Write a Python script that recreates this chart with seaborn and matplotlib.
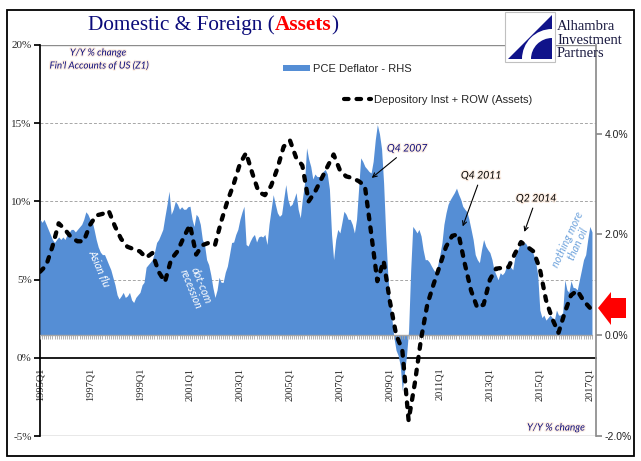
import numpy as np
import pandas as pd
import matplotlib
matplotlib.use("Agg")
import matplotlib.pyplot as plt
import matplotlib.dates as mdates
import matplotlib.patheffects as pe
from matplotlib.patches import Patch, Polygon, Rectangle, Wedge
from matplotlib.lines import Line2D
from matplotlib.transforms import IdentityTransform
import seaborn as sns

# Depository Inst + ROW (Assets), Y/Y % change, quarterly 1995Q1 - 2017Q1 (LHS)
assets_yoy = [
    5.5, 5.9, 7.1, 8.6,      # 1995
    8.2, 7.7, 7.45, 7.45,    # 1996
    8.5, 9.1, 9.2, 9.4,      # 1997
    8.4, 7.6, 7.1, 6.95,     # 1998
    6.8, 6.4, 6.7, 5.5,      # 1999
    4.85, 6.3, 6.8, 7.7,     # 2000
    8.5, 6.6, 7.2, 7.35,     # 2001
    7.2, 8.7, 10.0, 11.1,    # 2002
    12.4, 13.1, 11.8, 10.6,  # 2003
    10.4, 11.0, 12.1, 13.5,  # 2004
    13.9, 12.8, 12.3, 10.0,  # 2005
    10.6, 11.4, 12.2, 13.0,  # 2006
    12.0, 11.6, 11.5, 11.3,  # 2007
    11.0, 8.0, 4.9, 6.2,     # 2008
    3.6, 1.5, 0.5, -4.0,     # 2009
    -1.6, 1.2, 3.4, 4.7,     # 2010
    5.9, 7.1, 7.8, 7.9,      # 2011
    6.0, 4.3, 3.2, 3.4,      # 2012
    5.0, 5.7, 5.75, 5.8,     # 2013
    6.65, 7.4, 7.1, 6.8,     # 2014
    5.7, 3.7, 2.5, 1.6,      # 2015
    2.9, 4.0, 4.3, 3.65,     # 2016
    3.2,                     # 2017
]

# PCE deflator, Y/Y % change, monthly Jan 1995 - Feb 2017 (RHS)
pce_yoy = [
    2.3, 2.24, 2.3, 2.2, 2.1, 2.0, 1.9, 1.84, 1.9, 1.95, 1.9, 1.95,       # 1995
    1.9, 2.0, 2.04, 2.1, 2.1, 2.05, 2.1, 2.15, 2.2, 2.3, 2.45, 2.4,       # 1996
    2.3, 2.26, 2.1, 1.9, 1.75, 1.65, 1.6, 1.6, 1.5, 1.4, 1.3, 1.15,       # 1997
    1.0, 0.8, 0.72, 0.78, 0.85, 0.75, 0.78, 0.85, 0.7, 0.65, 0.75, 0.8,   # 1998
    0.85, 1.0, 1.05, 1.35, 1.4, 1.45, 1.5, 1.65, 1.84, 1.9, 2.0, 2.1,     # 1999
    2.36, 2.6, 2.86, 2.4, 2.5, 2.66, 2.6, 2.5, 2.55, 2.5, 2.5, 2.55,      # 2000
    2.56, 2.3, 2.16, 2.4, 2.35, 2.2, 1.9, 1.8, 1.5, 1.4, 1.2, 0.95,       # 2001
    0.75, 0.9, 1.15, 1.05, 1.05, 1.25, 1.37, 1.6, 1.84, 1.85, 2.0, 2.1,   # 2002
    2.3, 2.45, 2.56, 1.8, 1.77, 1.87, 1.95, 2.0, 1.85, 1.95, 1.97, 1.95,  # 2003
    2.0, 1.8, 2.2, 2.5, 2.79, 2.6, 2.43, 2.36, 2.4, 2.7, 2.99, 2.7,       # 2004
    2.56, 2.6, 2.7, 2.83, 2.5, 2.33, 2.7, 3.0, 3.72, 3.5, 3.35, 3.1,      # 2005
    3.2, 3.15, 3.15, 3.15, 3.25, 3.29, 3.2, 2.9, 2.0, 1.5, 1.9, 2.1,      # 2006
    2.03, 2.25, 2.46, 2.4, 2.3, 2.3, 2.2, 2.03, 2.3, 2.9, 3.52, 3.45,     # 2007
    3.35, 3.3, 3.25, 3.22, 3.45, 3.88, 4.18, 4.0, 3.7, 3.02, 2.0, 1.2,    # 2008
    0.71, 0.3, -0.05, -0.3, -0.4, -0.6, -1.1, -0.75, -0.4, 0.1, 1.3, 2.16,  # 2009
    2.1, 2.03, 2.1, 1.97, 1.7, 1.5, 1.5, 1.45, 1.37, 1.3, 1.24, 1.4,      # 2010
    1.6, 1.84, 2.2, 2.43, 2.6, 2.69, 2.76, 2.83, 2.92, 2.8, 2.7, 2.56,    # 2011
    2.5, 2.45, 2.3, 2.1, 1.9, 1.6, 1.5, 1.44, 1.7, 1.9, 1.77, 1.7,        # 2012
    1.64, 1.5, 1.3, 1.2, 1.1, 1.24, 1.2, 1.25, 1.37, 1.5, 1.35, 1.3,      # 2013
    1.55, 1.65, 1.75, 1.84, 1.8, 1.84, 1.77, 1.7, 1.7, 1.6, 1.45, 1.2,    # 2014
    0.5, 0.35, 0.4, 0.3, 0.35, 0.4, 0.35, 0.3, 0.5, 0.4, 0.4, 0.45,       # 2015
    1.1, 0.9, 0.85, 1.08, 0.95, 0.94, 0.9, 1.1, 1.3, 1.5, 1.6, 1.9,       # 2016
    2.16, 2.05,                                                           # 2017
]

left_ticks = [-5, 0, 5, 10, 15, 20]
right_ticks = [-2, 0, 2, 4]

quarters = pd.period_range("1995Q1", periods=len(assets_yoy), freq="Q").to_timestamp()
months = pd.date_range("1995-01-01", periods=len(pce_yoy), freq="MS")
df_q = pd.DataFrame({"quarter": quarters, "assets": assets_yoy})

BLUE = "#558ED5"
NAVY = "#0b0b7a"
GRAY = "#8c8c8c"

sns.set_theme(style="white")
plt.rcParams["font.family"] = ["Liberation Sans", "DejaVu Sans"]

W, H = 641, 461
fig = plt.figure(figsize=(W / 100, H / 100), dpi=100)
fig.patch.set_facecolor("white")

ax = fig.add_axes([40 / W, 1 - 436 / H, 556 / W, 391 / H])
ax2 = ax.twinx()
ax3 = ax.twinx()

# --- right axis: PCE deflator area ---
ax2.fill_between(months, 0, pce_yoy, color=BLUE, lw=0)
zeros = np.zeros(len(months))
ax2.plot(months, zeros, color="#a6a6a6", lw=1.0)
ax2.plot(months, zeros - 0.03, ls="none", marker="|", ms=3.5, mew=0.6, color="#a6a6a6")
ax2.set_ylim(-2.0, 5.76)
ax2.set_yticks(right_ticks, [f"{v:.1f}%" for v in right_ticks])
ax2.tick_params(axis="y", direction="out", length=4, color=GRAY, labelsize=7.5,
                labelcolor="#222222", pad=2)
for s in ["left", "top", "bottom"]:
    ax2.spines[s].set_visible(False)
ax2.spines["right"].set_color(GRAY)
ax2.grid(False)

# --- left axis: gridlines, spines, ticks ---
ax.set_ylim(-5, 20)
for v in [5, 10, 15]:
    ax.axhline(v, color="#a6a6a6", lw=0.7, ls=(0, (3, 2)))
ax.axhline(20, color=GRAY, lw=1.0)
ax.axhline(-5, color=GRAY, lw=1.0)
ax.set_yticks(left_ticks, [f"{v}%" for v in left_ticks])
ax.tick_params(axis="y", direction="out", length=4, color="black", labelsize=8, pad=2)
for lab in ax.get_yticklabels():
    lab.set_family("Liberation Serif")
ax.spines["bottom"].set_position(("data", 0))
ax.spines["bottom"].set_color("black")
ax.spines["left"].set_color("black")
ax.spines["top"].set_visible(False)
ax.spines["right"].set_visible(False)
ax.grid(False)

ax.set_xlim(pd.Timestamp("1995-01-01"), pd.Timestamp("2017-04-01"))
major = quarters[::8]
ax.set_xticks(major, [f"{d.year}Q1" for d in major])
ax.set_xticks(pd.period_range("1995Q1", "2017Q2", freq="Q").to_timestamp(), minor=True)
ax.tick_params(axis="x", which="both", direction="out", length=4, color="black",
               width=0.8, labelsize=7.5, pad=3)
for lab in ax.get_xticklabels():
    lab.set_rotation(90)
    lab.set_va("top")
    lab.set_family("Liberation Serif")

# --- dashed line on top ---
sns.lineplot(data=df_q, x="quarter", y="assets", ax=ax3, color="black", lw=3.1,
             linestyle=(0, (1.1, 1.9)), dash_capstyle="round", legend=False)
ax3.set_ylim(-5, 20)
ax3.set_xlim(pd.Timestamp("1995-01-01"), pd.Timestamp("2017-04-01"))
ax3.yaxis.set_visible(False)
for s in ax3.spines.values():
    s.set_visible(False)
ax3.set_xlabel("")
ax3.set_ylabel("")

# --- annotations ---
arrow = dict(arrowstyle="->", color="black", lw=0.8, shrinkA=1, shrinkB=0)
glow = [pe.withStroke(linewidth=1.8, foreground="#fdeee3")]
notes = [("Q4 2007", "2008-04-10", 11.5, 407, 149, NAVY),
         ("Q4 2011", "2011-12-01", 8.4, 481, 176, "black"),
         ("Q2 2014", "2014-05-20", 8.05, 536, 199, "black")]
for txt, d, v, tx, ty, c in notes:
    ax3.annotate(txt, xy=(mdates.date2num(pd.Timestamp(d)), v), xycoords="data",
                 xytext=(tx, H - ty), textcoords="figure pixels", ha="center", va="center",
                 fontsize=7.5, style="italic", family="Lato", color=c,
                 arrowprops=arrow, path_effects=glow)

fig.text(98 / W, 1 - 53 / H, "Y/Y % change", ha="center", va="center", fontsize=7,
         style="italic", family="Lato", color=NAVY, path_effects=glow)
fig.text(99 / W, 1 - 66 / H, "Fin'l Accounts of US (Z1)", ha="center", va="center",
         fontsize=7, style="italic", family="Lato", color=NAVY, path_effects=glow)
fig.text(556 / W, 1 - 428 / H, "Y/Y % change", ha="center", va="center", fontsize=7.2,
         style="italic", family="Lato", color=NAVY, path_effects=glow)

fig.text(99 / W, 1 - 268 / H, "Asian flu", ha="center", va="center", rotation=-67,
         rotation_mode="anchor", fontsize=7.8, style="italic", family="Lato", color="white")
fig.text(196 / W, 1 - 287 / H, "dot-com\nrecession", ha="center", va="center",
         rotation=-68, rotation_mode="anchor", fontsize=7.8, style="italic", family="Lato",
         color="white", linespacing=1.0)
fig.text(573 / W, 1 - 242 / H, "nothing more\nthan oil", ha="center", va="center",
         rotation=65, rotation_mode="anchor", fontsize=7.8, style="italic", family="Lato",
         color="#6fa3dc", linespacing=1.0)

# --- legend entries ---
lp = {"family": "Liberation Sans", "size": 8}
h1 = Patch(facecolor=BLUE, edgecolor="none")
h2 = Line2D([0], [0], color="black", lw=3.0, linestyle=(0, (1.1, 1.9)), dash_capstyle="round")
leg1 = fig.legend([h1], ["PCE Deflator - RHS"], loc="center left",
                  bbox_to_anchor=(283 / W, 1 - 69 / H), frameon=False, prop=lp,
                  handlelength=2.4, handleheight=0.45, handletextpad=0.3,
                  borderpad=0, borderaxespad=0)
leg2 = fig.legend([h2], ["Depository Inst + ROW (Assets)"], loc="center left",
                  bbox_to_anchor=(344 / W, 1 - 100 / H), frameon=False, prop=lp,
                  handlelength=2.4, handletextpad=0.3, borderpad=0, borderaxespad=0)

# --- title in two colours ---
tf = {"family": "Liberation Serif", "size": 15.3}
t1 = fig.text(88 / W, 1 - 30 / H, "Domestic & Foreign (", color=NAVY, va="baseline", **tf)
fig.canvas.draw()
x1 = t1.get_window_extent().x1
t2 = fig.text(x1 / W, 1 - 30 / H, "Assets", color="#ff0000", weight="bold", va="baseline", **tf)
fig.canvas.draw()
x2 = t2.get_window_extent().x1
fig.text(x2 / W, 1 - 30 / H, ")", color=NAVY, va="baseline", **tf)

# --- logo, red arrow and outer frame (pixel coordinates) ---
idt = IdentityTransform()


def px(x, y):
    return (x, H - y)


fig.add_artist(Rectangle(px(505, 62), 50, 50, transform=idt, facecolor="white",
                         edgecolor="#c0c0c0", lw=0.8, zorder=5))
fig.add_artist(Polygon([px(508, 59), px(552, 15), px(552, 59)], closed=True,
                       transform=idt, facecolor="#10138a", edgecolor="none", zorder=6))
fig.add_artist(Wedge(px(552, 59), 30, 90, 180, width=9, transform=idt,
                     facecolor="white", edgecolor="none", zorder=7))
for i, word in enumerate(["Alhambra", "Investment", "Partners"]):
    fig.text(557 / W, 1 - (30 + 13.5 * i) / H, word, ha="left", va="baseline",
             family="Liberation Serif", fontsize=10.5, color="#1a1a40", zorder=8)

fig.add_artist(Polygon([px(598, 308), px(611, 292), px(611, 298), px(626, 298),
                        px(626, 318), px(611, 318), px(611, 325)], closed=True,
                       transform=idt, facecolor="#ff0000", edgecolor="none", zorder=6))

fig.add_artist(Rectangle(px(7, 456), 627, 446, transform=idt, fill=False,
                         edgecolor="black", lw=1.3, zorder=9))

fig.savefig("out.png", dpi=100)
